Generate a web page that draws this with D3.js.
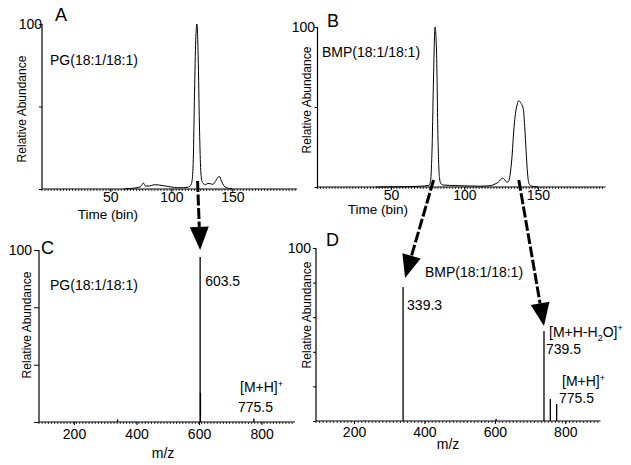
<!DOCTYPE html>
<html>
<head>
<meta charset="utf-8">
<script src="https://cdn.jsdelivr.net/npm/d3@7/dist/d3.min.js"></script>
<style>
  body { margin: 0; background: #fff; }
  svg { display: block; font-family: "Liberation Sans", Arial, sans-serif; }
</style>
</head>
<body>
<div id="chart"></div>
<script>
// Panel A: extracted ion chromatogram, PG(18:1/18:1)
const timeA  = [61, 66, 72, 75, 77, 79, 82, 86, 90, 95, 100, 105, 110, 114, 116, 117, 118, 119, 120, 121, 122, 123, 124, 125, 126, 128, 130, 132, 134, 136, 138, 139.5, 141, 143, 145, 148, 150];
const abundA = [0, 0.3, 0.8, 1.5, 3.6, 1.8, 1.8, 2.6, 2.4, 1.8, 1.2, 0.8, 0.8, 1.2, 2.5, 5, 18, 58, 90, 100, 80, 40, 13, 5, 3.5, 2.6, 3.4, 3.2, 2.8, 4.5, 7, 7.5, 5, 2, 0.8, 0.3, 0];

// Panel B: extracted ion chromatogram, BMP(18:1/18:1)
const timeB  = [40, 60, 70, 76, 77, 78, 79, 80, 81, 82, 83, 84, 86, 90, 100, 110, 117, 120, 123, 126, 127, 129, 130, 132, 134, 136, 137, 138, 140, 141, 142, 143, 144, 146, 150];
const abundB = [0, 0.2, 0.5, 1, 4, 25, 70, 100, 85, 30, 6, 2, 1.2, 1, 0.7, 0.5, 0.8, 1.5, 3, 5.5, 5, 3, 3.5, 15, 40, 52, 54, 53, 49, 38, 22, 8, 2, 0.5, 0];

// Panel C: mass spectrum of PG(18:1/18:1)
const mzC  = [339.3, 603.5, 604.5, 775.5];
const intC = [1.5, 96, 17, 2];

// Panel D: mass spectrum of BMP(18:1/18:1)
const mzD  = [339.3, 603.5, 739.5, 757.5, 775.5];
const intD = [77.5, 1.2, 52, 12.7, 9.8];

// axis ticks
const timeTicks = [50, 100, 150];
const mzTicks = [200, 400, 600, 800];
const yTicksA = [0, 50, 100];
const yTicksC = [0, 33.3, 66.7, 100];
const yTicksD = [0, 20, 40, 60, 80, 100];

const W = 631, H = 465;
const svg = d3.select('#chart').append('svg')
    .attr('width', W).attr('height', H);

const FONT = 14;

// draws the axes of one panel
function axes(p) {
    const g = svg.append('g');
    const [x0, x1] = p.x.range();
    const y0 = p.y(0);

    // minor ticks (the dotted look of the x axis)
    const minor = d3.range(p.x.domain()[0], p.x.domain()[1], p.minorStep);
    g.selectAll('.minor').data(minor).enter().append('line')
        .attr('x1', d => p.x(d)).attr('x2', d => p.x(d))
        .attr('y1', y0).attr('y2', y0 + 2)
        .attr('stroke', '#000').attr('stroke-width', 0.8);

    // x axis
    const xa = g.append('g')
        .attr('transform', `translate(0,${y0})`)
        .call(d3.axisBottom(p.x).tickValues(p.xTicks).tickSize(3).tickPadding(p.tickPad));
    xa.select('.domain').attr('d', `M${x0},0H${x1}`).attr('stroke-width', 1.2);
    xa.selectAll('text').attr('font-size', FONT).attr('font-family', null);

    // y axis
    const ya = g.append('g')
        .attr('transform', `translate(${x0},0)`)
        .call(d3.axisLeft(p.y).tickValues(p.yTicks).tickSize(p.yTickSize).tickFormat(''));
    ya.select('.domain').attr('d', `M0,${p.y(100)}V${y0}`).attr('stroke-width', 1.2);

    // "100" label
    g.append('text')
        .attr('x', p.hundredX).attr('y', p.y(100)).attr('dy', '0.35em')
        .attr('text-anchor', 'end').attr('font-size', FONT).text('100');

    // y title
    g.append('text')
        .attr('transform', `translate(${p.yTitleX},${p.yTitleY}) rotate(-90)`)
        .attr('text-anchor', 'middle').attr('dy', '0.35em')
        .attr('font-size', 12).text('Relative Abundance');

    // x title
    g.append('text')
        .attr('x', p.xTitleX).attr('y', y0 + p.xTitleDy).attr('dy', '0.35em')
        .attr('text-anchor', 'middle').attr('font-size', p.xTitleSize).text(p.xTitle);

    // panel letter
    g.append('text')
        .attr('x', p.letterX).attr('y', p.letterY).attr('dy', '0.35em')
        .attr('font-size', 18).text(p.letter);
}

function trace(p, xs, ys) {
    const line = d3.line()
        .x(d => p.x(d[0]))
        .y(d => p.y(d[1]))
        .curve(d3.curveMonotoneX);
    svg.append('path')
        .datum(d3.zip(xs, ys))
        .attr('d', line)
        .attr('fill', 'none')
        .attr('stroke', '#000')
        .attr('stroke-width', 1);
}

function sticks(p, xs, ys) {
    svg.append('g').selectAll('line')
        .data(d3.zip(xs, ys)).enter().append('line')
        .attr('x1', d => p.x(d[0])).attr('x2', d => p.x(d[0]))
        .attr('y1', p.y(0)).attr('y2', d => p.y(d[1]))
        .attr('stroke', '#000').attr('stroke-width', 1.3);
}

function label(x, y, txt, size) {
    return svg.append('text')
        .attr('x', x).attr('y', y).attr('dy', '0.35em')
        .attr('font-size', size || FONT).text(txt);
}

// ---- panels ----
const pA = {
    x: d3.scaleLinear().domain([-6, 203]).range([42, 297]),
    y: d3.scaleLinear().domain([0, 100]).range([189, 24]),
    xTicks: timeTicks, yTicks: yTicksA, yTickSize: 3, minorStep: 2.5, tickPad: 0,
    hundredX: 42, yTitleX: 22, yTitleY: 109,
    xTitle: 'Time (bin)', xTitleX: 108, xTitleDy: 25, xTitleSize: 13.5,
    letter: 'A', letterX: 55, letterY: 15
};
const pB = {
    x: d3.scaleLinear().domain([0, 196]).range([317.5, 605.5]),
    y: d3.scaleLinear().domain([0, 100]).range([187, 27]),
    xTicks: timeTicks, yTicks: yTicksA, yTickSize: 3, minorStep: 2, tickPad: 0,
    hundredX: 315, yTitleX: 307, yTitleY: 100,
    xTitle: 'Time (bin)', xTitleX: 378, xTitleDy: 22, xTitleSize: 13.5,
    letter: 'B', letterX: 327, letterY: 21
};
const pC = {
    x: d3.scaleLinear().domain([88, 907]).range([39, 295]),
    y: d3.scaleLinear().domain([0, 100]).range([422, 250]),
    xTicks: mzTicks, yTicks: yTicksC, yTickSize: 5, minorStep: 10, tickPad: 4,
    hundredX: 32, yTitleX: 27, yTitleY: 325,
    xTitle: 'm/z', xTitleX: 163, xTitleDy: 31, xTitleSize: FONT,
    letter: 'C', letterX: 41, letterY: 248
};
const pD = {
    x: d3.scaleLinear().domain([92, 900]).range([316, 600.5]),
    y: d3.scaleLinear().domain([0, 100]).range([421, 248]),
    xTicks: mzTicks, yTicks: yTicksD, yTickSize: 3, minorStep: 10, tickPad: 3,
    hundredX: 311, yTitleX: 307, yTitleY: 315,
    xTitle: 'm/z', xTitleX: 448, xTitleDy: 23, xTitleSize: FONT,
    letter: 'D', letterX: 326, letterY: 240
};

[pA, pB, pC, pD].forEach(axes);
trace(pA, timeA, abundA);
trace(pB, timeB, abundB);
sticks(pC, mzC, intC);
sticks(pD, mzD, intD);

// annotations
label(50, 60, 'PG(18:1/18:1)');
label(322, 52, 'BMP(18:1/18:1)');
label(50, 285, 'PG(18:1/18:1)');
label(pC.x(603.5) + 5, 281, '603.5');
const mhC = label(240, 387, '[M+H]');
mhC.append('tspan').attr('font-size', 9).attr('dy', '-0.6em').text('+');
label(238, 407, '775.5');

label(425, 272, 'BMP(18:1/18:1)');
label(pD.x(339.3) + 4, 305, '339.3');
const mh2o = label(549, 332, '[M+H-H');
mh2o.append('tspan').attr('font-size', 9).attr('dy', '0.45em').text('2');
mh2o.append('tspan').attr('dy', '-0.3em').text('O]');
mh2o.append('tspan').attr('font-size', 9).attr('dy', '-0.6em').text('+');
label(546, 349, '739.5');
const mhD = label(562, 381, '[M+H]');
mhD.append('tspan').attr('font-size', 9).attr('dy', '-0.6em').text('+');
label(559, 398, '775.5');

// dashed arrows linking chromatogram peaks to their spectra
function arrow(x1, y1, x2, y2) {
    const len = Math.hypot(x2 - x1, y2 - y1);
    const ux = (x2 - x1) / len, uy = (y2 - y1) / len;
    const headL = 23, headW = 9.5;
    const bx = x2 - ux * headL, by = y2 - uy * headL;
    svg.append('line')
        .attr('x1', x1).attr('y1', y1).attr('x2', bx).attr('y2', by)
        .attr('stroke', '#000').attr('stroke-width', 3)
        .attr('stroke-dasharray', '11,2.5');
    svg.append('path')
        .attr('d', `M${x2},${y2}L${bx - uy * headW},${by + ux * headW}L${bx + uy * headW},${by - ux * headW}Z`)
        .attr('fill', '#000');
}
arrow(pA.x(121.5), pA.y(0) - 8, pC.x(603.5), pC.y(96) - 7);
arrow(pB.x(79), pB.y(0) - 7, pD.x(339.3) + 2, pD.y(77.5) - 9);
arrow(pB.x(137), pB.y(0) - 7, pD.x(739.5), pD.y(52) - 5);
</script>
</body>
</html>
